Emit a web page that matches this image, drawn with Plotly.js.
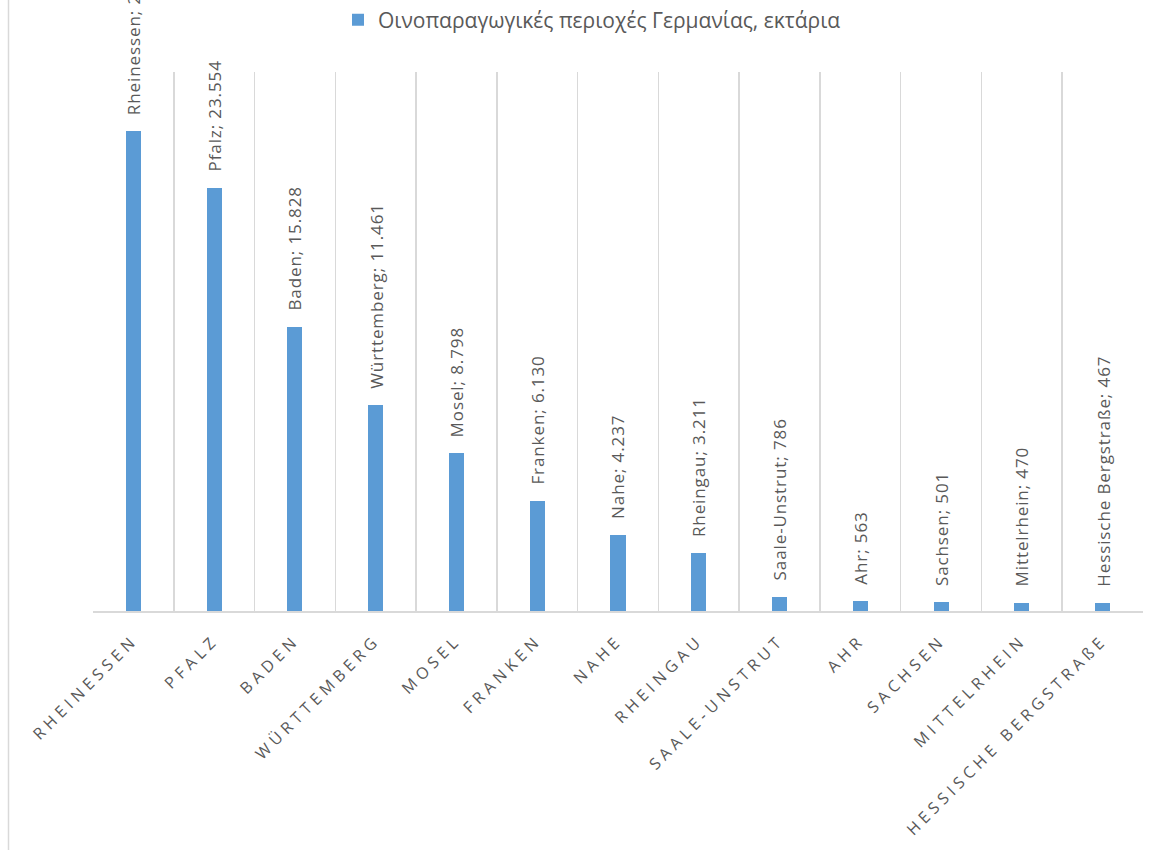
<!DOCTYPE html>
<html>
<head>
<meta charset="utf-8">
<script src="https://cdn.plot.ly/plotly-3.0.1.min.js"></script>
<style>
  html, body { margin: 0; padding: 0; background: #fff; }
  #chart { width: 1170px; height: 850px; }
  .xtick text { letter-spacing: 4.6px; }
  .annotation-text { letter-spacing: 0.9px; }
</style>
</head>
<body>
<div id="chart"></div>
<script>
// Data
const regions = ["Rheinessen", "Pfalz", "Baden", "Württemberg", "Mosel", "Franken", "Nahe",
  "Rheingau", "Saale-Unstrut", "Ahr", "Sachsen", "Mittelrhein", "Hessische Bergstraße"];
const tickLabels = ["RHEINESSEN", "PFALZ", "BADEN", "WÜRTTEMBERG", "MOSEL", "FRANKEN", "NAHE",
  "RHEINGAU", "SAALE-UNSTRUT", "AHR", "SACHSEN", "MITTELRHEIN", "HESSISCHE BERGSTRAßE"];
const hectares = [26700, 23554, 15828, 11461, 8798, 6130, 4237, 3211, 786, 563, 501, 470, 467];
const seriesName = "Οινοπαραγωγικές περιοχές Γερμανίας, εκτάρια";

function fmt(v) {
  return String(v).replace(/\B(?=(\d{3})+(?!\d))/g, ".");
}

const W = 1170, H = 850;
const M = { l: 93, r: 27, t: 72, b: 239, autoexpand: false };
const plotW = W - M.l - M.r, plotH = H - M.t - M.b;
const grey = "#595959";
const gridGrey = "#d9d9d9";

const trace = {
  type: "bar",
  x: regions,
  y: hectares,
  name: seriesName,
  width: 0.186,
  marker: { color: "#5B9BD5" },
  hoverinfo: "skip",
  showlegend: true
};

const annotations = regions.map((r, i) => ({
  x: r,
  y: hectares[i],
  xref: "x",
  yref: "y",
  text: r + "; " + fmt(hectares[i]),
  textangle: -90,
  showarrow: false,
  xanchor: "center",
  yanchor: "bottom",
  yshift: 14,
  font: { family: "Open Sans", size: 17, color: grey }
}));

const layout = {
  width: W,
  height: H,
  margin: M,
  paper_bgcolor: "#ffffff",
  plot_bgcolor: "#ffffff",
  font: { family: "Open Sans", color: grey },
  showlegend: true,
  legend: {
    orientation: "h",
    x: (338 - M.l) / plotW,
    xanchor: "left",
    y: 1 + (M.t - 20) / plotH,
    yanchor: "middle",
    font: { family: "Open Sans", size: 21, color: grey },
    bgcolor: "rgba(0,0,0,0)"
  },
  xaxis: {
    type: "category",
    categoryorder: "array",
    categoryarray: regions,
    tickmode: "array",
    tickvals: regions,
    ticktext: tickLabels,
    tickson: "boundaries",
    ticks: "",
    showgrid: true,
    gridcolor: gridGrey,
    gridwidth: 1.5,
    showline: true,
    linecolor: gridGrey,
    linewidth: 1.5,
    tickangle: -45,
    ticklabelstandoff: 12,
    tickfont: { family: "Open Sans", size: 16, color: grey },
    fixedrange: true
  },
  yaxis: {
    range: [0, 30000],
    showgrid: false,
    zeroline: false,
    showticklabels: false,
    showline: false,
    ticks: "",
    fixedrange: true
  },
  bargap: 0,
  annotations: annotations,
  shapes: [{
    type: "line",
    xref: "paper", yref: "paper",
    x0: (8.5 - M.l) / plotW, x1: (8.5 - M.l) / plotW,
    y0: -(H - M.t) / plotH, y1: 1 + M.t / plotH,
    line: { color: gridGrey, width: 1.5 }
  }]
};

Plotly.newPlot("chart", [trace], layout, { displayModeBar: false, staticPlot: true });
</script>
</body>
</html>
